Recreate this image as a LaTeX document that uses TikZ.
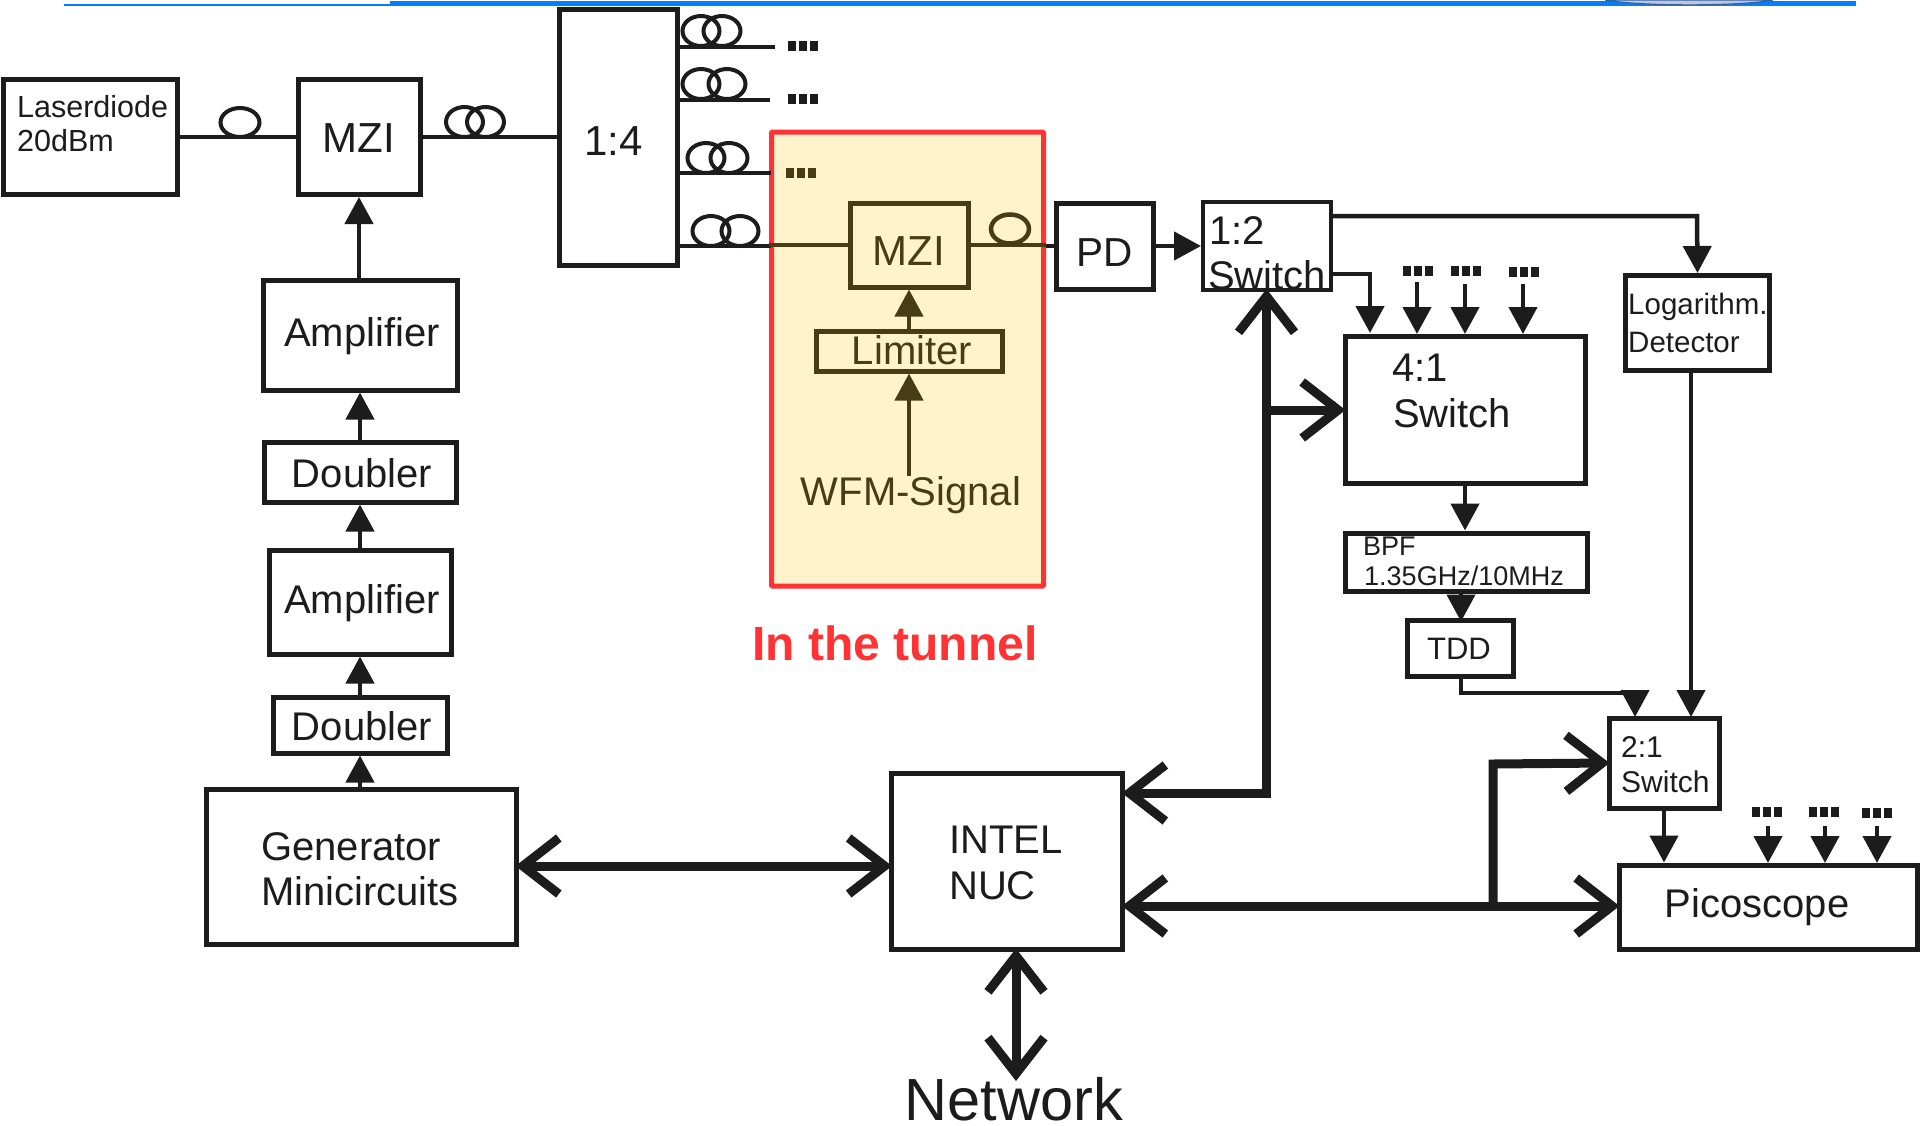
\documentclass[tikz,border=0pt]{standalone}
\usepackage{fontspec}
\setmainfont{Liberation Sans}
\usetikzlibrary{arrows.meta}
\definecolor{ink}{RGB}{28,28,28}
\definecolor{tunnel}{RGB}{72,60,22}
\definecolor{tunnelfill}{RGB}{255,243,204}
\definecolor{redframe}{RGB}{255,51,51}
\definecolor{blueline}{RGB}{0,127,255}
\definecolor{lav}{RGB}{190,196,222}
\definecolor{lavedge}{RGB}{50,100,160}
\tikzset{
  headtip/.tip={Triangle[length=27pt,width=28pt]},
  barbtip/.tip={Straight Barb[length=36pt,width=56pt,line width=9pt]},
}
\begin{document}
\begin{tikzpicture}[x=1pt,y=-1pt,
  box/.style={draw=ink,line width=5pt,fill=none,inner sep=0pt},
  boxa/.style={draw=ink,line width=4pt,fill=none,inner sep=0pt},
  lbl/.style={inner sep=0pt,text=ink,align=left,font=\fontsize{#1}{#1}\selectfont},
  lbl/.default=38,
  wire/.style={draw=ink,line width=4.5pt},
  thin wire/.style={draw=ink,line width=4.5pt,-{headtip}},
  twire/.style={draw=tunnel,line width=4.5pt},
  fat/.style={draw=ink,line width=9pt,line cap=butt},
  fattip/.style={fat,-{barbtip},shorten >=-3pt},
  fatboth/.style={fat,{barbtip}-{barbtip},shorten >=-3pt,shorten <=-3pt},
  coil/.style={draw=ink,line width=4pt,fill=none},
]
\useasboundingbox (0,0) rectangle (1920,1125);
\fill[white] (0,0) rectangle (1920,1125);
% top rule
\fill[blueline] (64,3.8) rectangle (390,6);
\fill[blueline] (390,1.2) rectangle (1856,6);
\filldraw[fill=lav,draw=lavedge,line width=1.2pt] (1605,0) .. controls (1640,6.5) and (1740,6.5) .. (1773,0) -- cycle;
% tunnel
\node[draw=redframe,fill=tunnelfill,line width=5pt,anchor=north west,inner sep=0pt,minimum width=272pt,minimum height=454pt,rounded corners=1pt] (tun) at (769,129.5) {};
\node[text=redframe,inner sep=0pt,font=\fontsize{48}{48}\selectfont\bfseries] (tunlab) at (895,643) {In the tunnel};
% boxes
\node[box,minimum width=174pt,minimum height=115pt] (ld) at (90,137) {};
\node[lbl=30.5,anchor=west] (ldt) at (17,123.5) {Laserdiode\\[3pt]20dBm};
\node[box,minimum width=122pt,minimum height=115pt] (mzi) at (359,137) {};
\node[lbl=42] (mzit) at (359,138) {MZI};
\node[box,minimum width=118pt,minimum height=256pt] (sp) at (618,137) {};
\node[lbl=42] (spt) at (613.5,141) {1:4};
\node[box,minimum width=194pt,minimum height=110pt] (a1) at (360,335) {};
\node[lbl=40] (a1t) at (362,336) {Amplifier};
\node[box,minimum width=192pt,minimum height=60pt] (d1) at (360,472) {};
\node[lbl=40] (d1t) at (362,473) {Doubler};
\node[box,minimum width=182pt,minimum height=104pt] (a2) at (360,602) {};
\node[lbl=40] (a2t) at (362,603) {Amplifier};
\node[box,minimum width=174pt,minimum height=56pt] (d2) at (360,725) {};
\node[lbl=40] (d2t) at (362,726) {Doubler};
\node[box,minimum width=310pt,minimum height=155pt] (gen) at (361,867) {};
\node[lbl=40,anchor=west] (gent) at (261,869) {Generator\\[5pt]Minicircuits};
\node[box,minimum width=231pt,minimum height=176pt] (nuc) at (1007,861) {};
\node[lbl=40,anchor=west] (nuct) at (949,863) {INTEL\\[6pt]NUC};
\node[lbl=59.5,anchor=base] (net) at (1014,1120) {Network};
% tunnel contents
\node[draw=tunnel,line width=5pt,inner sep=0pt,minimum width=118pt,minimum height=84pt] (mzb) at (909,245) {};
\node[lbl=42,text=tunnel] (mzbt) at (909,251) {MZI};
\node[draw=tunnel,line width=5pt,inner sep=0pt,minimum width=186pt,minimum height=40pt] (lim) at (909,351) {};
\node[lbl=40,text=tunnel] (limt) at (912,350) {Limiter};
\node[lbl=40,text=tunnel] (wfm) at (911,495) {WFM-Signal};
% right side
\node[box,minimum width=97pt,minimum height=86pt] (pd) at (1105,246) {};
\node[lbl=40.5] (pdt) at (1104.5,253) {PD};
\node[boxa,minimum width=128pt,minimum height=88pt] (s12) at (1267,246) {};
\node[lbl=40,anchor=west] (s12t) at (1209,231) {1:2};
\node[lbl=40,anchor=west] (s12u) at (1208,275) {Switch};
\node[box,minimum width=240pt,minimum height=147pt] (s41) at (1465,410) {};
\node[lbl=40,anchor=west] (s41t) at (1392,368) {4:1};
\node[lbl=40,anchor=west] (s41u) at (1393,413) {Switch};
\node[box,minimum width=144pt,minimum height=95pt] (log) at (1697.5,323) {};
\node[lbl=29.5,anchor=west] (logt) at (1628,307) {Logarithm.};
\node[lbl=29.5,anchor=west] (logu) at (1628,342) {Detector};
\node[box,minimum width=242pt,minimum height=58pt] (bpf) at (1466,562) {};
\node[lbl=27,anchor=west] (bpft) at (1363,546) {BPF};
\node[lbl=27,anchor=west] (bpfu) at (1364,576) {1.35GHz/10MHz};
\node[box,minimum width=106pt,minimum height=56pt] (tdd) at (1460,648) {};
\node[lbl=31] (tddt) at (1459,649) {TDD};
\node[box,minimum width=110pt,minimum height=90pt] (s21) at (1664,763) {};
\node[lbl=30,anchor=west] (s21t) at (1621,747) {2:1};
\node[lbl=30,anchor=west] (s21u) at (1621,782) {Switch};
\node[box,minimum width=298pt,minimum height=84pt] (pico) at (1768,907) {};
\node[lbl=40] (picot) at (1757,907) {Picoscope};
% fibre connections
\draw[wire] (ld.east) -- (mzi.west);
\draw[coil] (240,122.5) circle [x radius=19.5pt,y radius=14.5pt];
\draw[wire] (mzi.east) -- (sp.west |- mzi.east);
\draw[coil] (464.5,122) circle [x radius=18.5pt,y radius=15pt];
\draw[coil] (485.5,122) circle [x radius=18.5pt,y radius=15pt];
\coordinate (o1) at (775,47); \coordinate (o2) at (770,100); \coordinate (o3) at (771,173); \coordinate (o4) at (771,246);
\draw[wire] (sp.east |- o1) -- (o1);
\draw[wire] (sp.east |- o2) -- (o2);
\draw[wire] (sp.east |- o3) -- (o3);
\draw[wire] (sp.east |- o4) -- (o4);
\foreach \xa/\xb/\ya in {701/722/31,701/727/84,706/729/158,711/740/231}{
  \draw[coil] (\xa,\ya) circle [x radius=18.5pt,y radius=15pt];
  \draw[coil] (\xb,\ya) circle [x radius=18.5pt,y radius=15pt];
}
\draw[twire] (tun.west |- mzb.west) -- (mzb.west);
\draw[twire] (mzb.east) -- (tun.east |- mzb.east);
\draw[twire] (1010,229) circle [x radius=19pt,y radius=14.5pt];
\draw[wire] (tun.east |- pd.west) -- (pd.west);
% dots
\foreach \xa/\ya/\col in {803/46/ink,803/99/ink,801/173/tunnel,1418/271/ink,1466/271/ink,1524/272/ink,1767/812/ink,1824/812/ink,1877/813/ink}{
  \fill[\col] (\xa-15,\ya-5) rectangle ++(8,10);
  \fill[\col] (\xa-4,\ya-5) rectangle ++(8,10);
  \fill[\col] (\xa+7,\ya-5) rectangle ++(8,10);
}
% arrow chain
\draw[thin wire] (a1.north -| mzi.south) -- (mzi.south);
\draw[thin wire] (d1.north) -- (a1.south);
\draw[thin wire] (a2.north) -- (d1.south);
\draw[thin wire] (d2.north) -- (a2.south);
\draw[thin wire] (gen.north -| d2.south) -- (d2.south);
\draw[twire,-{headtip}] (lim.north) -- (mzb.south);
\draw[twire,-{headtip}] (wfm.north -| lim.south) -- (lim.south);
\draw[thin wire] (pd.east) -- (s12.west);
% 1:2 outputs
\draw[thin wire] (s12.east |- 0,216) -- (1697,216) -- (log.north);
\draw[thin wire] (s12.east |- 0,274) -- (1370,274) -- (1370,333);
\coordinate (i1) at (1417,282); \coordinate (i2) at (1465,284); \coordinate (i3) at (1523,284);
\draw[thin wire] (i1) -- (i1 |- s41.north);
\draw[thin wire] (i2) -- (i2 |- s41.north);
\draw[thin wire] (i3) -- (i3 |- s41.north);
\draw[thin wire] (s41.south) -- (bpf.north -| s41.south);
\draw[thin wire] (bpf.south) ++(-5,0) -- ++(0,28);
\draw[thin wire] (log.south -| 1691,0) -- (1691,717);
\draw[thin wire] (tdd.south -| 1461,0) -- (1461,693) -- (1635,693) -- (1635,717);
\draw[thin wire] (s21.south) -- (s21.south |- pico.north);
\foreach \xa in {1768,1825,1877}{
  \draw[thin wire] (\xa,826) -- (\xa,863);
}
% fat links
\draw[fatboth] (gen.east |- 0,866) -- (nuc.west |- 0,866);
\draw[fatboth] (1016,1078) -- (nuc.south -| 1016,0);
\coordinate (jr) at (1493,906);
\draw[fatboth] (nuc.east |- jr) -- (pico.west |- jr);
\draw[fat,-{barbtip},shorten >=-3pt] (jr) -- (1493,764) -- (s21.west);
\coordinate (jv) at (1266.5,793);
\draw[fat,{barbtip}-,shorten <=-3pt] (nuc.east |- jv) -- (jv);
\draw[fattip] (1266.5,797.5) -- (s12.south -| jv);
\draw[fattip] (1266.5,410) -- (s41.west);
\end{tikzpicture}
\end{document}
